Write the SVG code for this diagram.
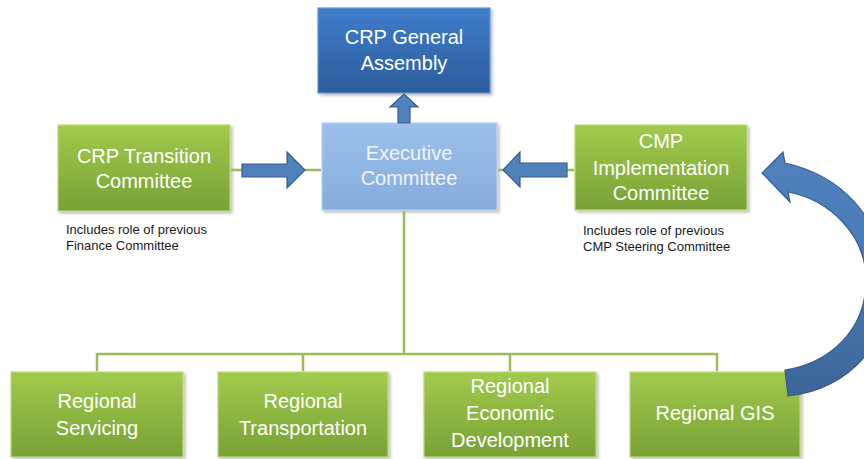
<svg xmlns="http://www.w3.org/2000/svg" width="864" height="459" viewBox="0 0 864 459">
<defs>
<linearGradient id="gGreen" x1="0" y1="0" x2="0" y2="1">
<stop offset="0" stop-color="#A2CA4C"/>
<stop offset="1" stop-color="#78A136"/>
</linearGradient>
<linearGradient id="gLight" x1="0" y1="0" x2="0" y2="1">
<stop offset="0" stop-color="#9BC0EB"/>
<stop offset="1" stop-color="#86ACDC"/>
</linearGradient>
<linearGradient id="gDark" x1="0" y1="0" x2="0" y2="1">
<stop offset="0" stop-color="#3F7DCC"/>
<stop offset="1" stop-color="#2C5D9B"/>
</linearGradient>
<linearGradient id="gArc" gradientUnits="userSpaceOnUse" x1="0" y1="150" x2="0" y2="400">
<stop offset="0" stop-color="#4F81BD"/>
<stop offset="0.5" stop-color="#4A7AB5"/>
<stop offset="1" stop-color="#3B6497"/>
</linearGradient>
<filter id="sh" x="-10%" y="-10%" width="130%" height="130%">
<feDropShadow dx="2" dy="2" stdDeviation="1.5" flood-color="#000" flood-opacity="0.25"/>
</filter>
</defs>
<style>
.box{filter:url(#sh);stroke-width:1.2}
.green{fill:url(#gGreen);stroke:#B9DA78}
.light{fill:url(#gLight);stroke:#B7D1F1}
.dark{fill:url(#gDark);stroke:#5E95D8}
.t{font-family:"Liberation Sans",Arial,sans-serif;font-size:20px;fill:#FFFFFF;text-anchor:middle}
.tl{fill:#F2F5FA}
.cap{font-family:"Liberation Sans",Arial,sans-serif;font-size:13px;fill:#1A1A1A}
.con{stroke:#9BBB59;stroke-width:2.5;fill:none}
.arr{fill:#4F81BD;stroke:#385D8A;stroke-width:1.2;stroke-linejoin:miter}
</style>
<g id="general-assembly">
<rect class="box dark" x="318" y="8" width="172" height="85"/>
<text class="t" x="404" y="44">CRP General</text>
<text class="t" x="404" y="70">Assembly</text>
</g>
<g id="executive-committee">
<rect class="box light" x="322" y="123" width="175" height="87"/>
<text class="t tl" x="409" y="160">Executive</text>
<text class="t tl" x="409" y="185">Committee</text>
</g>
<g id="transition-committee">
<rect class="box green" x="58" y="125" width="172" height="86"/>
<text class="t" x="144" y="163">CRP Transition</text>
<text class="t" x="144" y="188">Committee</text>
<text class="cap" x="66" y="234">Includes role of previous</text>
<text class="cap" x="66" y="250">Finance Committee</text>
</g>
<g id="cmp-implementation">
<rect class="box green" x="575" y="125" width="172" height="85"/>
<text class="t" x="661" y="148">CMP</text>
<text class="t" x="661" y="175">Implementation</text>
<text class="t" x="661" y="200">Committee</text>
<text class="cap" x="583" y="235">Includes role of previous</text>
<text class="cap" x="583" y="251">CMP Steering Committee</text>
</g>
<g id="regional-servicing">
<rect class="box green" x="11" y="372" width="172" height="85"/>
<text class="t" x="97" y="408">Regional</text>
<text class="t" x="97" y="435">Servicing</text>
</g>
<g id="regional-transportation">
<rect class="box green" x="218" y="372" width="170" height="85"/>
<text class="t" x="303" y="408">Regional</text>
<text class="t" x="303" y="435">Transportation</text>
</g>
<g id="regional-economic-development">
<rect class="box green" x="424" y="372" width="172" height="85"/>
<text class="t" x="510" y="393">Regional</text>
<text class="t" x="510" y="420">Economic</text>
<text class="t" x="510" y="447">Development</text>
</g>
<g id="regional-gis">
<rect class="box green" x="630" y="372" width="170" height="85"/>
<text class="t" x="715" y="420">Regional GIS</text>
</g>
<g id="connectors">
<path class="con" d="M231 170 H321 M498 170 H574 M404 211 V354 M97 354 H717 M97 353 V371 M303 353 V371 M510 353 V371 M717 353 V371"/>
<polygon class="arr" points="398,123 398,107 390,107 404,94 418,107 410,107 410,123"/>
<polygon class="arr" points="242,164 287,164 287,152 305,170 287,188 287,177 242,177"/>
<polygon class="arr" points="567,163 520,163 520,152 503,170 520,187 520,177 567,177"/>
<path class="arr" style="fill:url(#gArc)" d="M762 173 L783 152 L785 163 C840 175 880 215 888 280 C893 340 850 390 788 396 L785 370 C830 363 866 330 866 280 C866 235 830 200 788 192 L790 202 Z"/>
</g>
</svg>
